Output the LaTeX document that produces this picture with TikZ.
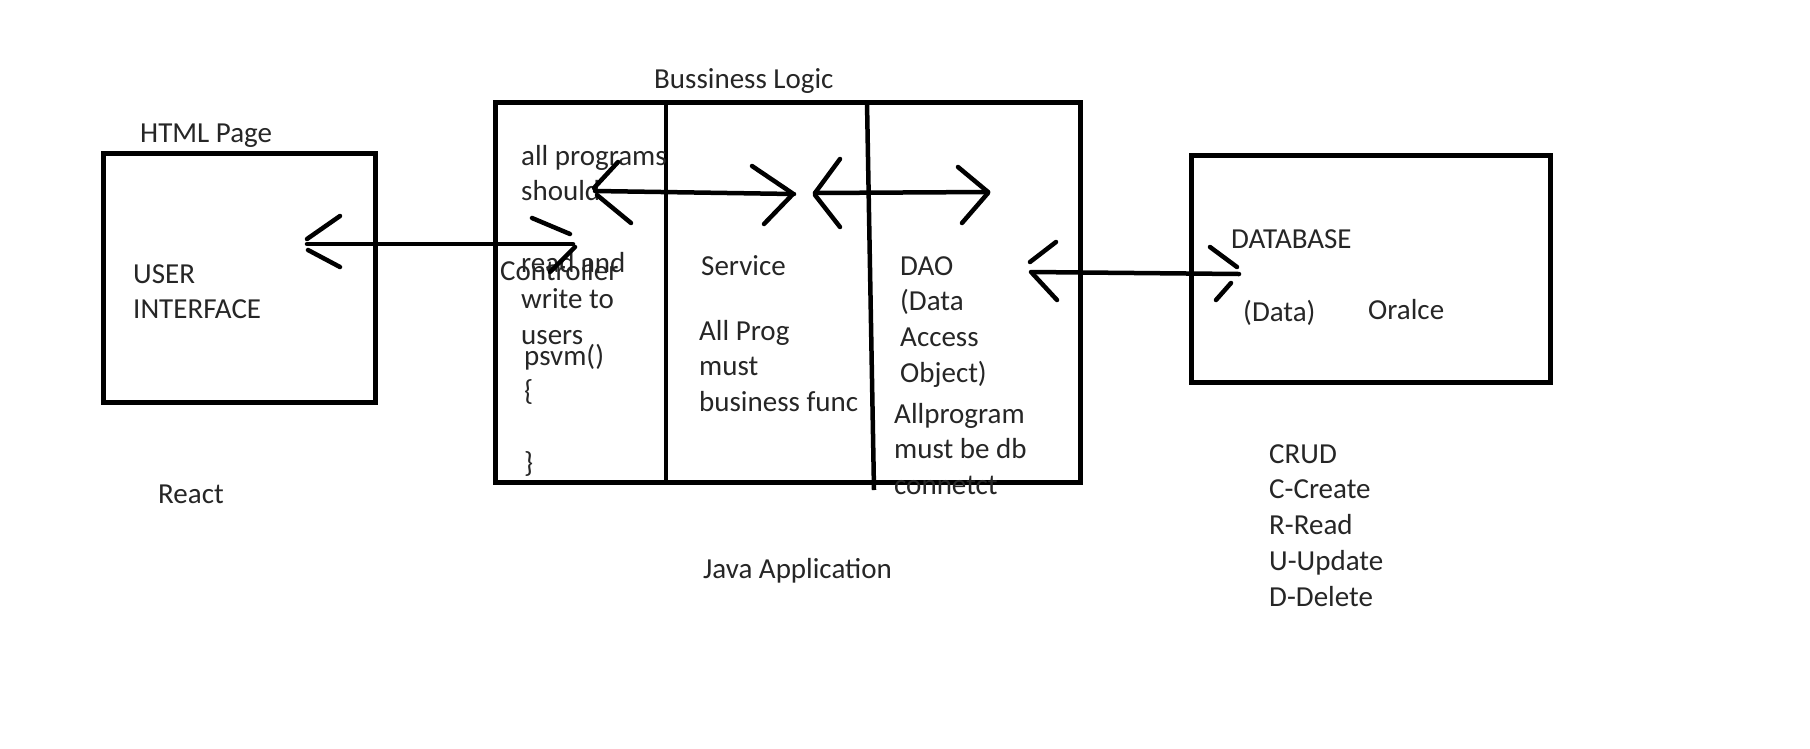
\documentclass[tikz,border=0pt]{standalone}
\usepackage{fontspec}
\setmainfont{Carlito}
\newcommand\ml[1]{\begin{tabular}[t]{@{}l@{}}#1\end{tabular}}
\begin{document}
\begin{tikzpicture}[x=1pt,y=-1pt,
  box/.style={draw, line width=5pt, inner sep=0pt, outer sep=0pt, anchor=north west},
  lbl/.style={anchor=base west, inner sep=0pt, text=black!85, font=\fontsize{29}{35.8}\selectfont},
  arr/.style={line width=4.5pt, line cap=round},
  divline/.style={line width=4.5pt}]
\useasboundingbox[fill=white] (0,0) rectangle (1810,748);

% boxes
\node[box, minimum width=272pt, minimum height=249pt] (ui) at (103,153) {};
\node[box, minimum width=585pt, minimum height=380pt] (app) at (495,102) {};
\node[box, minimum width=359pt, minimum height=227pt] (db) at (1191,155) {};

% dividers
\draw[divline] (666,102) -- (666,485);
\draw[divline] (867,102) -- (874,490);

% texts
\node[lbl] (html) at (140,142) {HTML Page};
\node[lbl] (uitxt) at (133,283) {\ml{USER\\INTERFACE}};
\node[lbl] (react) at (158,503) {React};
\node[lbl] (bl) at (654,88) {Bussiness Logic};
\node[lbl] (ctrltxt) at (521,165) {\ml{all programs\\should\\ \\read and\\write to\\users}};
\node[lbl] (ctrl) at (500,280) {Controller};
\node[lbl] (psvm) at (524,365) {\ml{psvm()\\\{\\ \\\}}};
\node[lbl] (svc) at (701,275) {Service};
\node[lbl] (svctxt) at (699,340) {\ml{All Prog\\must\\business func}};
\node[lbl] (dao) at (900,275) {\ml{DAO\\(Data\\Access\\Object)}};
\node[lbl] (daotxt) at (894,423) {\ml{Allprogram\\must be db\\connetct}};
\node[lbl] (dbtxt) at (1231,248) {DATABASE};
\node[lbl] (data) at (1243,321) {(Data)};
\node[lbl] (oracle) at (1368,319) {Oralce};
\node[lbl] (crud) at (1269,463) {\ml{CRUD\\C-Create\\R-Read\\U-Update\\D-Delete}};
\node[lbl] (java) at (703,578) {Java Application};

% arrow 1: UI <-> Controller
\coordinate (a1l) at (307,244);
\coordinate (a1r) at (573,244);
\draw[arr] (a1l) -- (a1r);
\draw[arr] (a1l) ++(0,-5) -- ++(33,-23);
\draw[arr] (a1l) ++(1,6) -- ++(32,17);
\draw[arr] (a1r) ++(-41,-26) -- ++(38,16);
\draw[arr] (a1r) ++(2,3) -- ++(-25,25);

% arrow 2: Controller <-> Service
\coordinate (a2l) at (595,191);
\coordinate (a2r) at (794,194);
\draw[arr] (a2l) -- (a2r);
\draw[arr] (a2l) ++(23,-29) -- ++(-24,26);
\draw[arr] (a2l) ++(2,4) -- ++(34,28);
\draw[arr] (a2r) ++(-42,-28) -- ++(40,27);
\draw[arr] (a2r) ++(-2,1) -- ++(-28,29);

% arrow 3: Service <-> DAO
\coordinate (a3l) at (815,193);
\coordinate (a3r) at (988,192);
\draw[arr] (a3l) -- (a3r);
\draw[arr] (a3l) ++(25,-34) -- ++(-25,34);
\draw[arr] (a3l) ++(0,2) -- ++(25,32);
\draw[arr] (a3r) ++(-30,-25) -- ++(30,25);
\draw[arr] (a3r) ++(0,1) -- ++(-26,30);

% arrow 4: DAO <-> Database
\coordinate (a4l) at (1031,272);
\coordinate (a4r) at (1239,274);
\draw[arr] (a4l) -- (a4r);
\draw[arr] (a4l) ++(25,-30) -- ++(-26,20);
\draw[arr] (a4l) ++(1,1) -- ++(25,27);
\draw[arr] (a4r) ++(-29,-27) -- ++(27,20);
\draw[arr] (a4r) ++(-8,9) -- ++(-15,17);
\end{tikzpicture}
\end{document}
